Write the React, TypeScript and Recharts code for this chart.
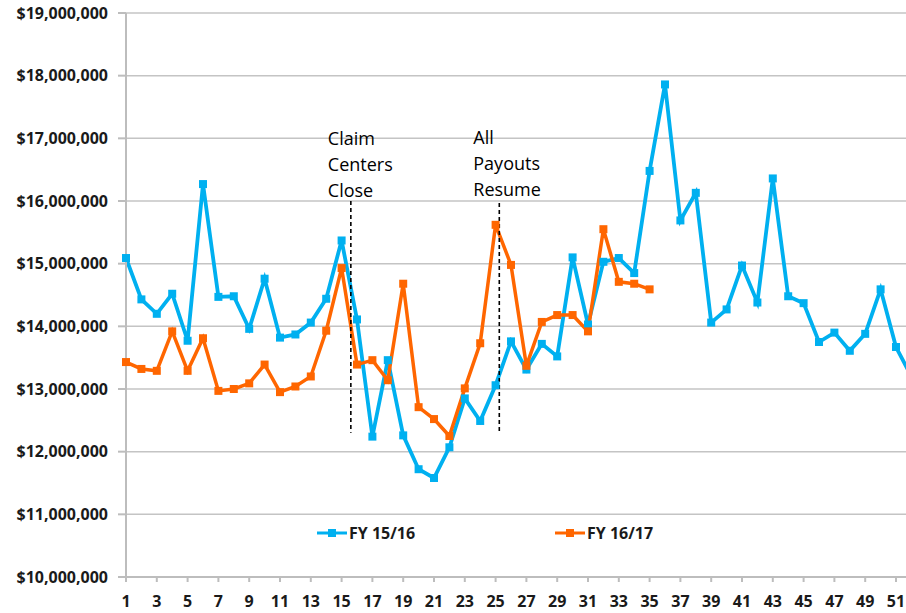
import React from 'react';
import {
  LineChart,
  Line,
  XAxis,
  YAxis,
  CartesianGrid,
  ReferenceLine,
} from 'recharts';

// Weekly payouts
const weeks = Array.from({ length: 52 }, (_, i) => i + 1);

const fy1516 = [
  15090000, 14430000, 14200000, 14520000, 13770000, 16270000, 14470000, 14480000, 13960000, 14760000,
  13820000, 13870000, 14060000, 14440000, 15370000, 14110000, 12240000, 13460000, 12260000, 11720000,
  11580000, 12070000, 12850000, 12490000, 13060000, 13760000, 13310000, 13720000, 13520000, 15100000,
  14030000, 15030000, 15090000, 14850000, 16480000, 17860000, 15690000, 16130000, 14060000, 14270000,
  14970000, 14380000, 16360000, 14480000, 14370000, 13750000, 13900000, 13610000, 13880000, 14590000,
  13670000, 13200000,
];

const fy1617 = [
  13430000, 13320000, 13290000, 13920000, 13290000, 13810000, 12970000, 13000000, 13090000, 13390000,
  12950000, 13040000, 13200000, 13930000, 14930000, 13390000, 13460000, 13140000, 14680000, 12710000,
  12520000, 12250000, 13010000, 13730000, 15620000, 14980000, 13370000, 14070000, 14180000, 14180000,
  13920000, 15550000, 14710000, 14680000, 14590000,
];

const yTicks = [10000000, 11000000, 12000000, 13000000, 14000000, 15000000, 16000000, 17000000, 18000000, 19000000];
const xTicks = weeks.filter((w) => w % 2 === 1);

const seriesNames = ['FY 15/16', 'FY 16/17'];
const COLORS = ['#00B0F0', '#FF6600'];

// Annotations: week position, dashed span (top, bottom) and text lines
const annotations = [
  { week: 15.6, top: 16000000, bottom: 12300000, lines: ['Claim', 'Centers', 'Close'] },
  { week: 25.24, top: 15970000, bottom: 12300000, lines: ['All', 'Payouts', 'Resume'] },
];

const data = weeks.map((w, i) => ({
  week: w,
  a: fy1516[i] ?? null,
  b: fy1617[i] ?? null,
}));

const FONT = '"Open Sans", "DejaVu Sans", sans-serif';

const fmtMoney = (v: number) => '$' + v.toLocaleString('en-US');

const squareDot = (color: string) => (props: any) => {
  const { cx, cy, index } = props;
  if (cx == null || cy == null || props.value == null) return <g key={`d-${index}`} />;
  return <rect key={`d-${index}`} x={cx - 4} y={cy - 4} width={8} height={8} fill={color} />;
};

const AnnotationText = (lines: string[], dx: number, dy: number) => (props: any) => {
  const vb = props.viewBox || {};
  const x = (vb.x ?? 0) + dx;
  const y0 = (vb.y ?? 0) + dy;
  return (
    <text x={x} y={y0} fontFamily={FONT} fontSize={18} fill="#000">
      {lines.map((l, i) => (
        <tspan key={i} x={x} y={y0 + i * 26}>
          {l}
        </tspan>
      ))}
    </text>
  );
};

const LegendItem = ({ name, color }: { name: string; color: string }) => (
  <div style={{ display: 'flex', alignItems: 'center' }}>
    <svg width={30} height={10}>
      <line x1={0} y1={5} x2={30} y2={5} stroke={color} strokeWidth={3} />
      <rect x={11} y={1} width={8} height={8} fill={color} />
    </svg>
    <span style={{ fontFamily: FONT, fontWeight: 700, fontSize: 16, color: '#1a1a1a', marginLeft: 2 }}>
      {name}
    </span>
  </div>
);

export default function App() {
  return (
    <div
      style={{
        position: 'absolute',
        left: 0,
        top: 0,
        width: 906,
        height: 613,
        overflow: 'hidden',
        background: '#fff',
      }}
    >
      <LineChart width={930} height={613} data={data} margin={{ top: 13, right: 18.6, left: 0, bottom: 0 }}>
        <CartesianGrid vertical={false} stroke="#c4c4c4" strokeWidth={1.5} />
        <XAxis
          dataKey="week"
          type="number"
          domain={[1, 52]}
          ticks={xTicks}
          interval={0}
          height={36}
          tickSize={5}
          tickMargin={14}
          stroke="#bdbdbd"
          strokeWidth={2}
          tick={{ fontFamily: FONT, fontWeight: 700, fontSize: 16, fill: '#1a1a1a' }}
        />
        <YAxis
          type="number"
          domain={[10000000, 19000000]}
          ticks={yTicks}
          width={126}
          tickSize={8}
          tickMargin={10}
          stroke="#bdbdbd"
          strokeWidth={2}
          tickFormatter={fmtMoney}
          tick={{ fontFamily: FONT, fontWeight: 700, fontSize: 16, fill: '#1a1a1a' }}
        />
        <Line
          dataKey="a"
          name={seriesNames[0]}
          stroke={COLORS[0]}
          strokeWidth={3.8}
          dot={squareDot(COLORS[0])}
          activeDot={false}
          isAnimationActive={false}
        />
        <Line
          dataKey="b"
          name={seriesNames[1]}
          stroke={COLORS[1]}
          strokeWidth={3.5}
          dot={squareDot(COLORS[1])}
          activeDot={false}
          isAnimationActive={false}
        />
        {annotations.map((a, i) => (
          <ReferenceLine
            key={i}
            segment={[
              { x: a.week, y: a.top },
              { x: a.week, y: a.bottom },
            ]}
            stroke="#000"
            strokeWidth={1.6}
            strokeDasharray="4 3"
            label={{ content: AnnotationText(a.lines, i === 0 ? -23 : -26, i === 0 ? -56 : -59) }}
          />
        ))}
      </LineChart>
      <div style={{ position: 'absolute', left: 317, top: 522, display: 'flex' }}>
        <div style={{ width: 238 }}>
          <LegendItem name={seriesNames[0]} color={COLORS[0]} />
        </div>
        <LegendItem name={seriesNames[1]} color={COLORS[1]} />
      </div>
    </div>
  );
}
